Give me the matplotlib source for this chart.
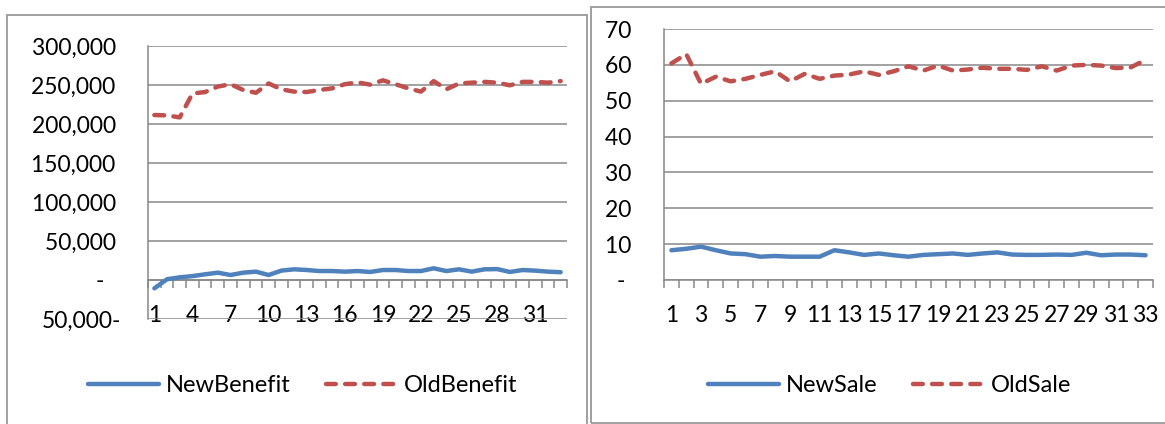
import numpy as np
import matplotlib
matplotlib.use("Agg")
import matplotlib.pyplot as plt
from matplotlib.patches import Rectangle
from matplotlib.lines import Line2D

plt.rcParams['font.family'] = ['Lato', 'DejaVu Sans']

periods = np.arange(1, 34)

new_benefit = [-10700, 1000, 3400, 5000, 7300, 9400, 6400, 9400, 10700, 6400,
               12000, 13700, 12800, 11500, 11500, 10700, 11500, 10300, 12800, 12800,
               11500, 11500, 15000, 11500, 13700, 10700, 13700, 14000, 10300, 12800,
               12000, 10700, 10000]
old_benefit = [211500, 211000, 208500, 239000, 241000, 248000, 251000, 243600, 240000, 252000,
               244500, 241500, 241000, 243600, 245700, 251000, 253400, 250400, 256000, 251000,
               245700, 241500, 255000, 244500, 252000, 253000, 254000, 253000, 249600, 254000,
               254000, 253000, 255000]

new_sale = [8.3, 8.7, 9.3, 8.3, 7.4, 7.2, 6.5, 6.7, 6.5, 6.5,
            6.5, 8.3, 7.7, 7.0, 7.4, 6.9, 6.5, 7.0, 7.2, 7.4,
            7.0, 7.4, 7.7, 7.1, 7.0, 7.0, 7.1, 7.0, 7.6, 6.9,
            7.1, 7.1, 6.9]
old_sale = [60.4, 63.0, 54.7, 56.7, 55.4, 56.1, 57.2, 58.2, 55.4, 57.5,
            56.1, 57.0, 57.3, 58.2, 57.2, 58.2, 59.6, 58.4, 59.8, 58.4,
            58.7, 59.2, 58.9, 58.9, 58.6, 59.6, 58.4, 59.8, 60.0, 59.8,
            59.1, 59.3, 61.4]

benefit_ticks = [-50000, 0, 50000, 100000, 150000, 200000, 250000, 300000]
benefit_labels = ['50,000-', '-   ', '50,000 ', '100,000 ', '150,000 ', '200,000 ', '250,000 ', '300,000 ']
sale_ticks = [0, 10, 20, 30, 40, 50, 60, 70]
sale_labels = ['-  ', '10 ', '20 ', '30 ', '40 ', '50 ', '60 ', '70 ']

BLUE = '#4F81BD'
RED = '#C0504D'
GRID = '#888888'
FS = 16.5
DASH = (2.2, 2.1)

W, H = 1165, 424
fig = plt.figure(figsize=(W / 100, H / 100), dpi=100)


def px_axes(x0, y0, x1, y1):
    return fig.add_axes([x0 / W, 1 - y1 / H, (x1 - x0) / W, (y1 - y0) / H])


def style(ax, ticks, labels, step, ypad):
    ax.set_xlim(0.5, 33.5)
    ax.set_yticks(ticks)
    ax.set_yticklabels(labels)
    ax.set_ylim(ticks[0], ticks[-1])
    ax.set_xticks(periods[::step])
    ax.set_xticklabels([str(p) for p in periods[::step]])
    ax.set_xticks(np.arange(0.5, 34.5, 1), minor=True)
    ax.tick_params(axis='x', which='major', length=0, pad=18, labelsize=FS)
    ax.tick_params(axis='x', which='minor', length=6, width=1.1, color=GRID, direction='out')
    ax.tick_params(axis='y', length=0, pad=ypad, labelsize=FS)
    for s in ['top', 'right']:
        ax.spines[s].set_visible(False)
    for s in ['left', 'bottom']:
        ax.spines[s].set_color(GRID)
        ax.spines[s].set_linewidth(1.1)
    ax.grid(axis='y', color=GRID, lw=1.1)
    ax.set_axisbelow(True)


def draw(ax, new, old):
    ax.plot(periods, new, color=BLUE, lw=3.2, solid_capstyle='round', solid_joinstyle='round', zorder=3)
    ax.plot(periods, old, color=RED, lw=3.2, dashes=DASH, dash_capstyle='round',
            dash_joinstyle='round', zorder=3)


# left chart: benefit
ax1 = px_axes(148, 46, 567, 319)
style(ax1, benefit_ticks, benefit_labels, 3, 19)
ax1.spines['bottom'].set_position(('data', 0))
draw(ax1, new_benefit, old_benefit)

# right chart: sale
ax2 = px_axes(664, 29, 1153, 280)
style(ax2, sale_ticks, sale_labels, 2, 19)
draw(ax2, new_sale, old_sale)

# chart frames
fig.add_artist(Rectangle((7 / W, -0.1), 580 / W, 1.1 - 15 / H, transform=fig.transFigure,
                         fill=False, ec='#999999', lw=1.3))
fig.add_artist(Rectangle((591 / W, 1 - 423 / H), 0.6, 416 / H, transform=fig.transFigure,
                         fill=False, ec='#999999', lw=1.3))


def legend(names, cx):
    handles = [Line2D([], [], color=BLUE, lw=3.2, solid_capstyle='round'),
               Line2D([], [], color=RED, lw=3.2, dashes=DASH, dash_capstyle='round')]
    fig.legend(handles, names, loc='center', bbox_to_anchor=(cx / W, 1 - 386 / H),
               ncol=2, frameon=False, fontsize=17, handlelength=3.0, handletextpad=0.3,
               columnspacing=1.5)


legend(['NewBenefit', 'OldBenefit'], 303)
legend(['NewSale', 'OldSale'], 890)

fig.savefig('out.png', dpi=100)
